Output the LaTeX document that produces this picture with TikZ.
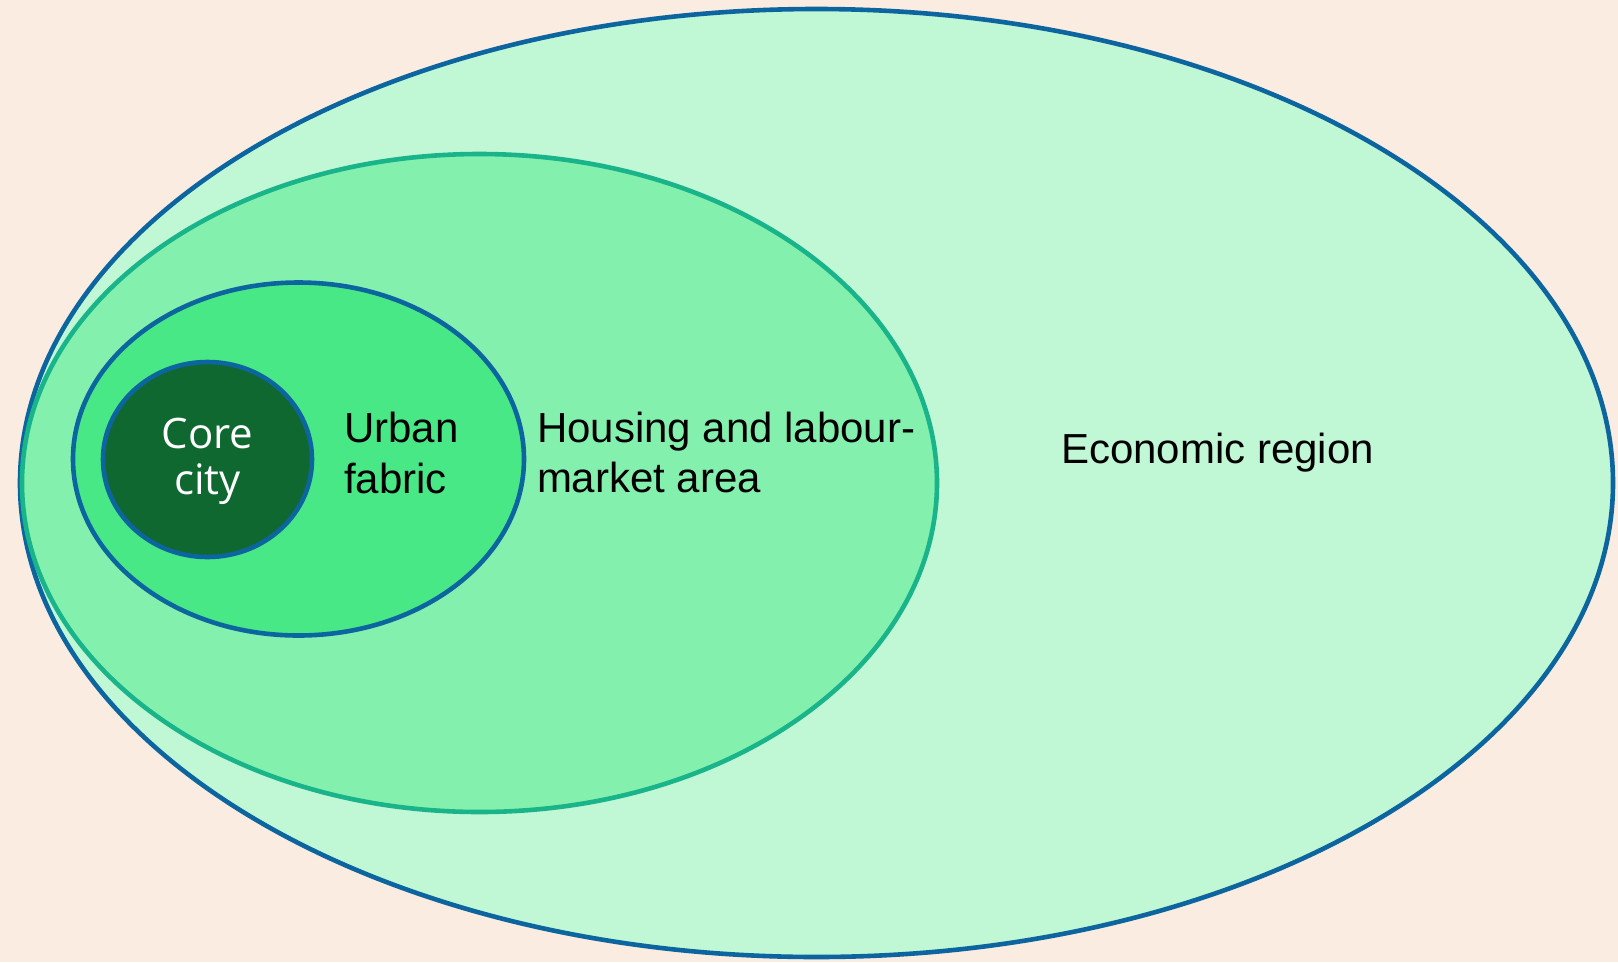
\documentclass[tikz,border=0pt]{standalone}
\usepackage{fontspec}
\setmainfont{Liberation Sans}
\newfontfamily\corefont{Open Sans}
\usetikzlibrary{shapes.geometric}
\definecolor{bgc}{HTML}{FAECE0}
\definecolor{econfill}{HTML}{C0F7D5}
\definecolor{housefill}{HTML}{84F0AE}
\definecolor{urbanfill}{HTML}{47E885}
\definecolor{corefill}{HTML}{0F6830}
\definecolor{bluestroke}{HTML}{0D65A0}
\definecolor{tealstroke}{HTML}{1AB48A}
\tikzset{
  region/.style={ellipse, inner sep=0pt, outer sep=0pt, line width=4.6pt},
  lbl/.style={inner sep=0pt, outer sep=0pt, align=left, anchor=base west,
    font=\fontsize{42}{50}\selectfont, text=black},
}
\begin{document}
\begin{tikzpicture}[x=1pt,y=-1pt]
\fill[bgc] (0,0) rectangle (1618,962);
\useasboundingbox (0,0) rectangle (1618,962);
\node[region, draw=bluestroke, fill=econfill, minimum width=1593pt, minimum height=948pt] (econ) at (816.5,483) {};
\node[region, draw=tealstroke, fill=housefill, minimum width=915pt, minimum height=658pt] (house) at (479.5,483) {};
\node[region, draw=bluestroke, fill=urbanfill, minimum width=451pt, minimum height=353pt] (urban) at (298.5,459) {};
\node[region, draw=bluestroke, fill=corefill, minimum width=209pt, minimum height=195pt] (core) at (207.5,459.5) {};
\node[inner sep=0pt, anchor=base, align=center, text=white, font=\corefont\fontsize{42}{46}\selectfont] (coretxt) at (207.5,494) {Core\\city};
\node[lbl, font=\fontsize{42}{51}\selectfont] (urbantxt) at (344,493) {Urban\\fabric};
\node[lbl] (housetxt) at (537,492) {Housing and labour-\\market area};
\node[lbl] (econtxt) at (1061,463) {Economic region};
\end{tikzpicture}
\end{document}
